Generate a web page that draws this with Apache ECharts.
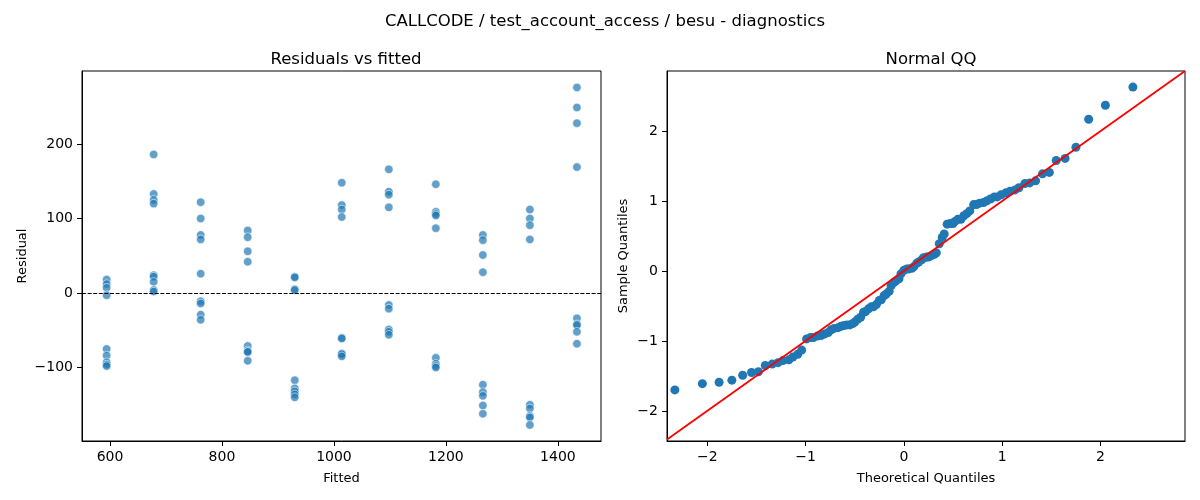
<!DOCTYPE html>
<html>
<head>
<meta charset="utf-8">
<script src="https://cdn.jsdelivr.net/npm/echarts@6/dist/echarts.min.js"></script>
<style>
html, body { margin: 0; padding: 0; background: #fff; }
#container { width: 1200px; height: 500px; }
</style>
</head>
<body>
<div id="container"></div>
<script>
// fitted value of each column of points
var fittedLevels = [594, 678, 762, 846, 930, 1014, 1098, 1182, 1266, 1350, 1434];

// residuals read per column (same order as fittedLevels)
var residualGroups = [
    [18, 12, 7, -3, -75, -84, -93, -96, -98],
    [186, 133, 125, 120, 24, 22, 15, 4, 2],
    [122, 100, 78, 72, 26, -11, -14, -29, -36],
    [84, 75, 56, 42, -71, -77, -79, -79, -91],
    [22, 21, 5, 4, -117, -128, -132, -136, -140],
    [148, 118, 112, 102, -60, -61, -81, -82, -85],
    [166, 136, 132, 115, -16, -21, -49, -52, -56],
    [146, 109, 106, 104, 87, -87, -95, -98, -100],
    [78, 71, 51, 28, -123, -133, -138, -151, -162],
    [112, 100, 91, 72, -150, -155, -165, -167, -177],
    [276, 249, 228, 169, -34, -42, -43, -52, -68]
];

// normal QQ: theoretical quantiles and sample quantiles
var theoreticalQ = [
    -2.33, -2.05, -1.88, -1.75, -1.64, -1.55, -1.48, -1.41, -1.34, -1.28,
    -1.23, -1.17, -1.13, -1.08, -1.04, -0.99, -0.95, -0.92, -0.88, -0.84,
    -0.81, -0.77, -0.74, -0.71, -0.67, -0.64, -0.61, -0.58, -0.55, -0.52,
    -0.50, -0.47, -0.44, -0.41, -0.39, -0.36, -0.33, -0.31, -0.28, -0.25,
    -0.23, -0.20, -0.18, -0.15, -0.13, -0.10, -0.08, -0.05, -0.03, 0.00,
    0.03, 0.05, 0.08, 0.10, 0.13, 0.15, 0.18, 0.20, 0.23, 0.25,
    0.28, 0.31, 0.33, 0.36, 0.39, 0.41, 0.44, 0.47, 0.50, 0.52,
    0.55, 0.58, 0.61, 0.64, 0.67, 0.71, 0.74, 0.77, 0.81, 0.84,
    0.88, 0.92, 0.95, 0.99, 1.04, 1.08, 1.13, 1.17, 1.23, 1.28,
    1.34, 1.41, 1.48, 1.55, 1.64, 1.75, 1.88, 2.05, 2.33
];
var sampleQ = [
    -1.70, -1.61, -1.59, -1.56, -1.49, -1.45, -1.44, -1.35, -1.33, -1.31,
    -1.28, -1.27, -1.23, -1.19, -1.13, -0.97, -0.95, -0.95, -0.93, -0.92,
    -0.90, -0.88, -0.84, -0.82, -0.81, -0.79, -0.78, -0.77, -0.77, -0.75,
    -0.73, -0.69, -0.66, -0.59, -0.58, -0.54, -0.51, -0.51, -0.48, -0.42,
    -0.41, -0.35, -0.33, -0.29, -0.21, -0.16, -0.14, -0.11, -0.04, 0.01,
    0.03, 0.03, 0.04, 0.06, 0.11, 0.13, 0.16, 0.19, 0.20, 0.20,
    0.22, 0.24, 0.26, 0.39, 0.48, 0.53, 0.67, 0.68, 0.68, 0.71,
    0.74, 0.74, 0.79, 0.82, 0.86, 0.95, 0.95, 0.97, 0.98, 1.00,
    1.03, 1.06, 1.06, 1.09, 1.12, 1.14, 1.16, 1.19, 1.25, 1.26,
    1.29, 1.39, 1.41, 1.58, 1.61, 1.77, 2.17, 2.37, 2.63
];

var fittedTicks = [600, 800, 1000, 1200, 1400];
var residualTicks = [-100, 0, 100, 200];
var qqTicks = [-2, -1, 0, 1, 2];

var fittedRange = [550, 1477];
var residualRange = [-198.6, 298];
var theoRange = [-2.41, 2.86];
var sampleRange = [-2.43, 2.86];

var residualData = [];
fittedLevels.forEach(function (f, i) {
    residualGroups[i].forEach(function (r) {
        residualData.push([f, r]);
    });
});

var qqData = theoreticalQ.map(function (t, i) { return [t, sampleQ[i]]; });
// 45 degree reference line across the plot
var qqLine = [[theoRange[0], theoRange[0]], [theoRange[1], theoRange[1]]];

var font = 'DejaVu Sans';
function minus(v) { return String(v).replace('-', '\u2212'); }

function valueAxis(gridIndex, range, ticks, name, nameGap) {
    return {
        type: 'value',
        gridIndex: gridIndex,
        min: range[0],
        max: range[1],
        name: name,
        nameLocation: 'middle',
        nameGap: nameGap,
        nameTextStyle: { color: '#000', fontSize: 13, fontFamily: font },
        splitLine: { show: false },
        axisLine: { show: true, onZero: false, lineStyle: { color: '#000', width: 1 } },
        axisTick: { show: true, length: 5, customValues: ticks, lineStyle: { color: '#000' } },
        axisLabel: {
            customValues: ticks,
            color: '#000',
            fontSize: 14,
            fontFamily: font,
            margin: 9,
            formatter: minus
        }
    };
}

var dom = document.getElementById('container');
var myChart = echarts.init(dom, null, { renderer: 'canvas' });

var option = {
    backgroundColor: '#fff',
    animation: false,
    title: [
        {
            text: 'CALLCODE / test_account_access / besu - diagnostics',
            left: 600, top: 8, textAlign: 'center',
            textStyle: { fontSize: 16.5, fontWeight: 'normal', color: '#000', fontFamily: font }
        },
        {
            text: 'Residuals vs fitted',
            left: 341, top: 46, textAlign: 'center',
            textStyle: { fontSize: 16.5, fontWeight: 'normal', color: '#000', fontFamily: font }
        },
        {
            text: 'Normal QQ',
            left: 926, top: 46, textAlign: 'center',
            textStyle: { fontSize: 16.5, fontWeight: 'normal', color: '#000', fontFamily: font }
        }
    ],
    grid: [
        { left: 82, right: 599, top: 71, bottom: 59, show: true, borderColor: '#000', borderWidth: 1 },
        { left: 667, right: 15, top: 71, bottom: 59, show: true, borderColor: '#000', borderWidth: 1 }
    ],
    xAxis: [
        valueAxis(0, fittedRange, fittedTicks, 'Fitted', 31),
        valueAxis(1, theoRange, qqTicks, 'Theoretical Quantiles', 31)
    ],
    yAxis: [
        valueAxis(0, residualRange, residualTicks, 'Residual', 53),
        valueAxis(1, sampleRange, qqTicks, 'Sample Quantiles', 37)
    ],
    series: [
        {
            name: 'Residuals',
            type: 'scatter',
            xAxisIndex: 0,
            yAxisIndex: 0,
            data: residualData,
            symbolSize: 8.5,
            itemStyle: {
                color: '#1f77b4',
                opacity: 0.7,
                borderColor: '#fff',
                borderWidth: 0.8
            },
            markLine: {
                silent: true,
                symbol: 'none',
                label: { show: false },
                lineStyle: { color: '#000', type: [4, 1.6], width: 1 },
                data: [{ yAxis: 0 }]
            }
        },
        {
            name: 'QQ points',
            type: 'scatter',
            xAxisIndex: 1,
            yAxisIndex: 1,
            data: qqData,
            symbolSize: 9,
            itemStyle: { color: '#1f77b4', opacity: 1 }
        },
        {
            name: 'Reference',
            type: 'line',
            xAxisIndex: 1,
            yAxisIndex: 1,
            data: qqLine,
            symbol: 'none',
            clip: true,
            lineStyle: { color: '#ff0000', width: 1.8 },
            z: 5
        }
    ]
};

myChart.setOption(option);
window.addEventListener('resize', myChart.resize);
</script>
</body>
</html>
